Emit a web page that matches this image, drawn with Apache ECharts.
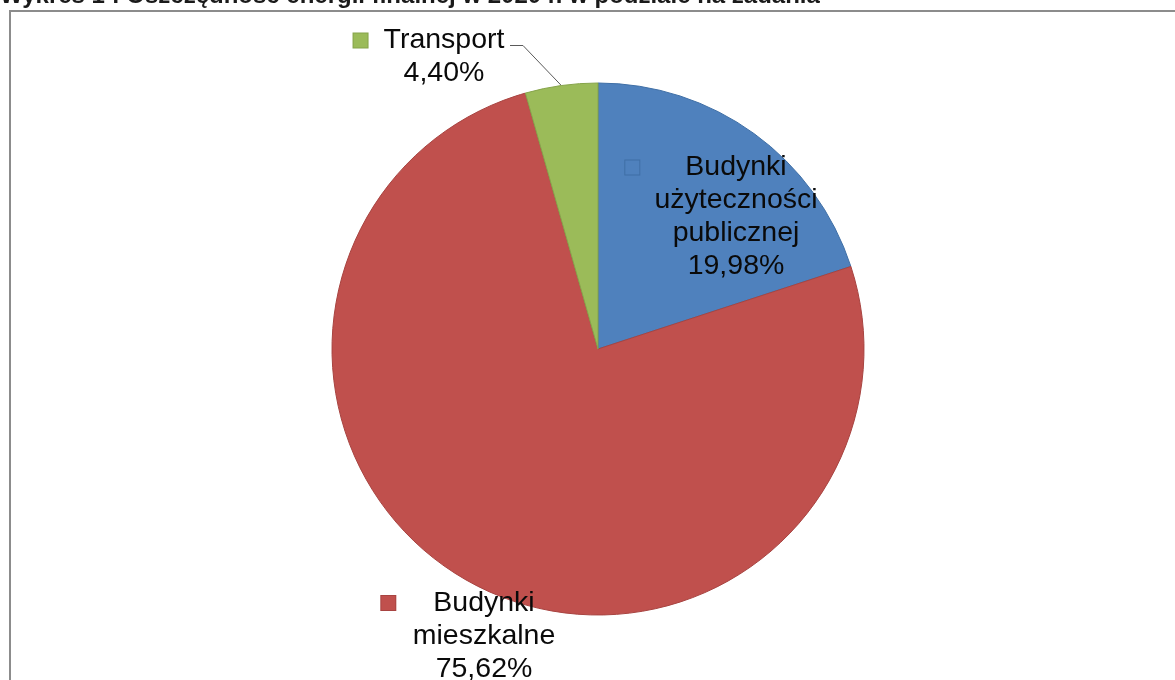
<!DOCTYPE html>
<html>
<head>
<meta charset="utf-8">
<script src="https://cdn.jsdelivr.net/npm/echarts@6/dist/echarts.min.js"></script>
<style>
  html, body { margin: 0; padding: 0; background: #ffffff; }
  #chart { width: 1175px; height: 680px; }
</style>
</head>
<body>
<div id="chart"></div>
<script>
// Final-energy savings in 2020, split by task (shares in %)
const titleText = 'Wykres 1 : Oszczędność energii finalnej w 2020 r. w podziale na zadania';
const categories = ['Budynki użyteczności publicznej', 'Budynki mieszkalne', 'Transport'];
const shares = [19.98, 75.62, 4.40];

// Slice fill / outline colours, in category order
const fills = ['#4F81BD', '#C0504D', '#9BBB59'];
const outlines = ['#3F6FA6', '#A84441', '#86A44A'];
// Gap between the legend key and the first line of each label
const keyGaps = [46, 38, 16];
// Label block centres
const labelCentres = [[736, 217], [484, 636], [444, 57]];

const FONT = "'Liberation Sans', Arial, sans-serif";
const KEY = 14;

function pct(v) {
  return v.toFixed(2).replace('.', ',') + '%';
}

function labelFor(i) {
  const words = categories[i].split(' ');
  const first = '{key| }{gap| }' + words[0] + '{pad| }';
  const lines = [first].concat(words.slice(1), [pct(shares[i])]);
  return {
    show: true,
    position: i === 2 ? 'outside' : 'inside',
    formatter: lines.join('\n'),
    fontFamily: FONT,
    fontSize: 28.5,
    lineHeight: 33,
    color: '#0a0a0a',
    align: 'center',
    rich: {
      key: {
        width: KEY, height: KEY,
        backgroundColor: fills[i],
        borderColor: outlines[i],
        borderWidth: 1,
        fontSize: 1, lineHeight: 33
      },
      gap: { width: keyGaps[i], fontSize: 1, lineHeight: 33 },
      pad: { width: KEY + keyGaps[i], fontSize: 1, lineHeight: 33 }
    }
  };
}

const pieData = categories.map((name, i) => ({
  name: name,
  value: shares[i],
  itemStyle: { color: fills[i], borderColor: outlines[i], borderWidth: 1 },
  label: labelFor(i),
  labelLine: {
    show: i === 2,
    lineStyle: { color: '#5a5a5a', width: 1 }
  }
}));

const chart = echarts.init(document.getElementById('chart'), null, { renderer: 'canvas' });

chart.setOption({
  animation: false,
  backgroundColor: '#ffffff',
  title: {
    text: titleText,
    left: 0,
    top: -16,
    padding: 0,
    textStyle: { fontFamily: FONT, fontSize: 24, fontWeight: 'bold', color: '#1a1a1a' }
  },
  graphic: [{
    type: 'rect',
    shape: { x: 10, y: 11, width: 1250, height: 760 },
    style: { fill: 'none', stroke: '#8c8c8c', lineWidth: 2 },
    z: -1,
    silent: true
  }],
  series: [{
    type: 'pie',
    center: [598, 349],
    radius: 266,
    startAngle: 90,
    clockwise: true,
    silent: true,
    emphasis: { disabled: true },
    avoidLabelOverlap: false,
    data: pieData,
    labelLayout: function (params) {
      const i = params.dataIndex;
      const c = labelCentres[i];
      const out = { x: c[0], y: c[1], align: 'center', verticalAlign: 'middle' };
      if (i === 2 && params.labelLinePoints) {
        const start = params.labelLinePoints[0];
        const ly = c[1] - 11.5;
        out.labelLinePoints = [start, [c[0] + 79, ly], [c[0] + 66, ly]];
      }
      return out;
    }
  }]
});
</script>
</body>
</html>
